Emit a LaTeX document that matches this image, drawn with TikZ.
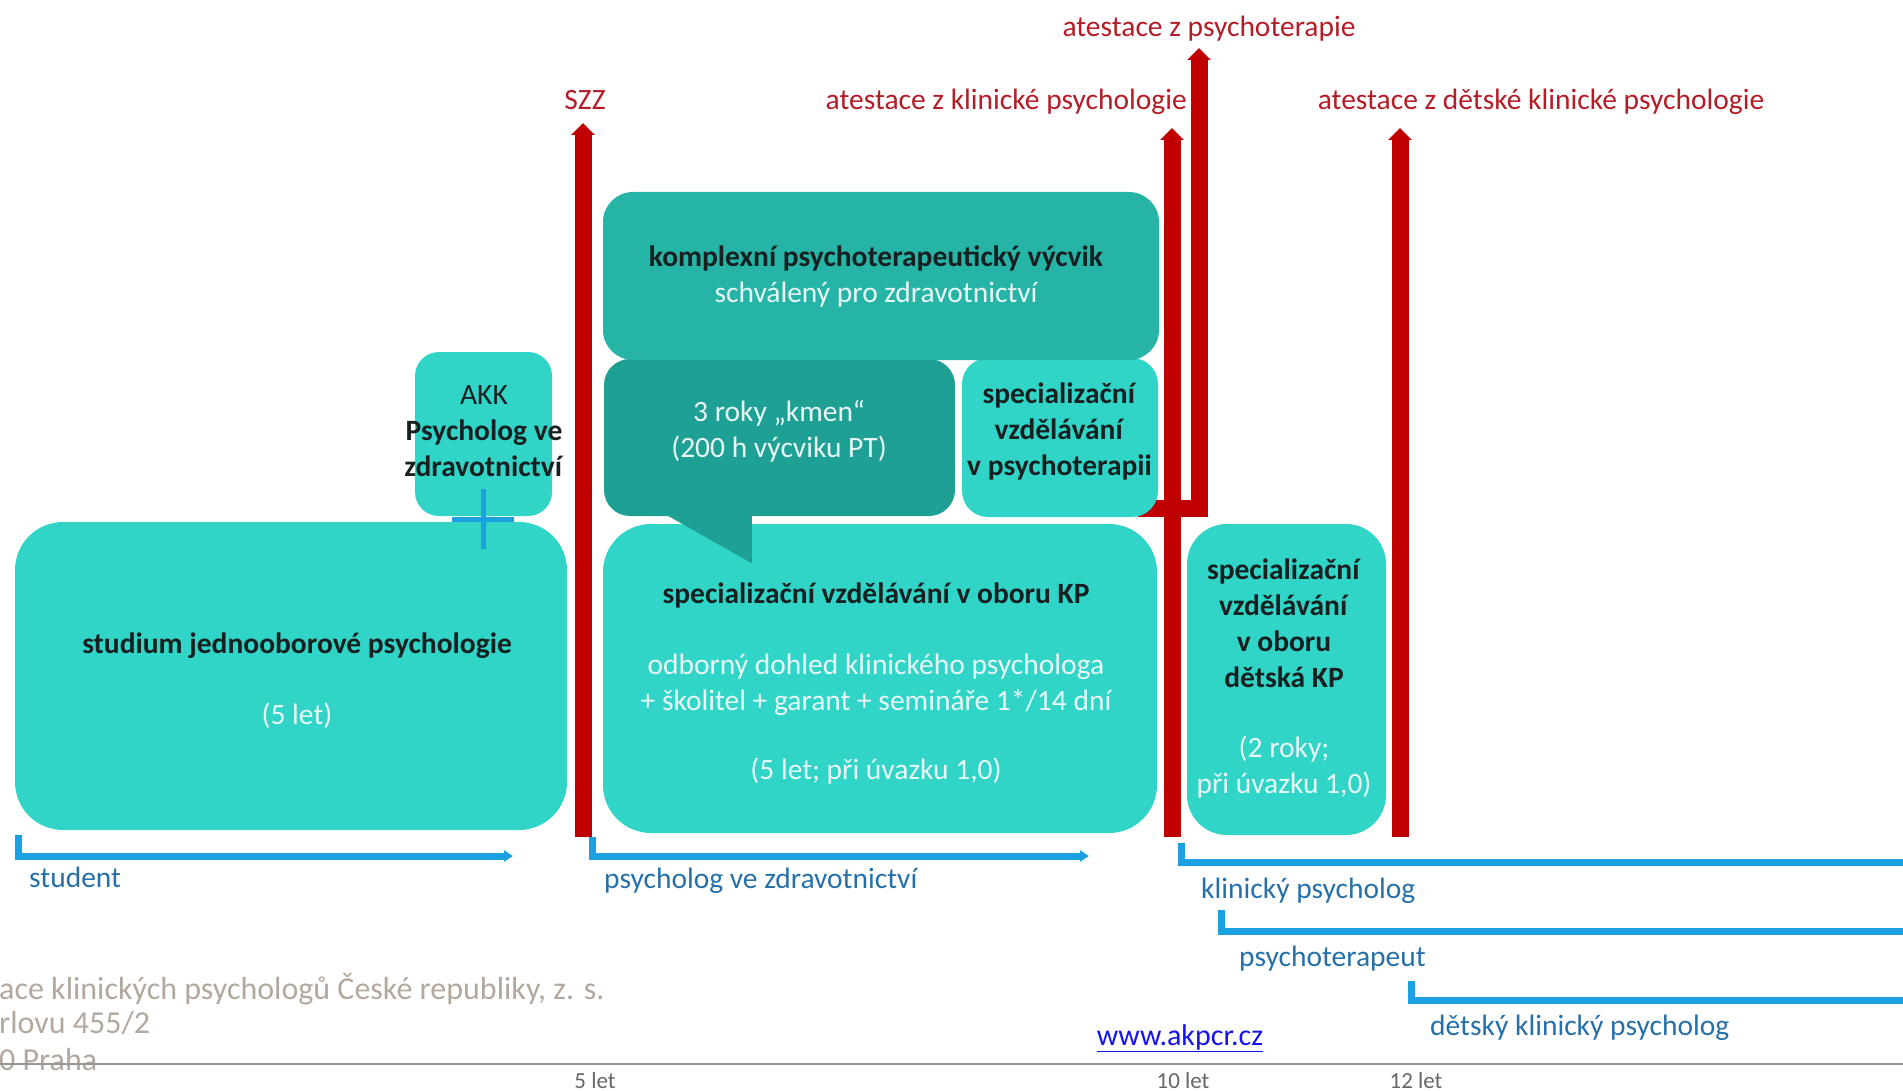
\documentclass[tikz,border=0pt]{standalone}
\usepackage{fontspec}
\setmainfont{Carlito}
\usepackage{tikz}
\usetikzlibrary{arrows.meta}
\usetikzlibrary{calc}
\usetikzlibrary{positioning}

\definecolor{tyrkys}{RGB}{49,213,200}
\definecolor{tyrkysB}{RGB}{38,180,167}
\definecolor{tyrkysC}{RGB}{31,160,148}
\definecolor{bordo}{RGB}{192,0,0}
\definecolor{bordoT}{RGB}{180,28,38}
\definecolor{modra}{RGB}{27,161,226}
\definecolor{modraT}{RGB}{38,112,170}
\definecolor{svetla}{RGB}{232,248,246}
\definecolor{tmava}{RGB}{22,32,32}
\definecolor{seda}{RGB}{178,168,158}
\definecolor{osa}{RGB}{150,150,150}
\definecolor{odkaz}{RGB}{20,20,235}

\begin{document}
\begin{tikzpicture}[x=1pt, y=-1pt,
  box/.style={fill=tyrkys, rounded corners=#1, inner sep=0pt},
  box/.default=48pt,
  txt/.style={align=center, inner sep=0pt, text=tmava, font=\fontsize{29.5}{36}\selectfont},
  bar/.style={bordo, line width=17pt, line join=miter, -{Triangle[length=0pt 0.7, width=0pt 1.35]}},
  atest/.style={inner sep=0pt, text=bordoT, font=\fontsize{29.5}{36}\selectfont},
  track/.style={modra, line width=7pt},
  role/.style={anchor=west, inner sep=0pt, text=modraT, font=\fontsize{29.5}{36}\selectfont},
  pata/.style={anchor=west, inner sep=0pt, text=seda, font=\fontsize{32}{36}\selectfont}]
\useasboundingbox (0,0) rectangle (1903,1091);
\foreach \nm/\x/\t in {szz/583/123, kp/1172/128, dkp/1400/128}{
\coordinate (\nm0) at (\x,837);
\coordinate (\nm1) at (\x,\t);
\draw[bar] (\nm0) -- (\nm1);}
\coordinate (ptbar0) at (1138,508);
\coordinate (ptbar1) at (1199,48);
\draw[bar] (ptbar0) -| (ptbar1);

\node[box, minimum width=552pt, minimum height=308pt] (studium) at (291,676) {};
\node[box=24pt, minimum width=137pt, minimum height=164pt] (akk) at (483.5,434) {};
\node[box=26pt, fill=tyrkysC, minimum width=351pt, minimum height=157pt] (kmen) at (779.5,437.5) {};
\node[box=26pt, minimum width=196pt, minimum height=159pt] (ptspec) at (1060,437.5) {};
\node[box=30pt, fill=tyrkysB, minimum width=556pt, minimum height=168pt] (komplex) at (881,276) {};
\node[box, minimum width=554pt, minimum height=309pt] (kpspec) at (880,678.5) {};
\node[box=40pt, minimum width=199pt, minimum height=311pt] (detska) at (1286.5,679.5) {};
\fill[tyrkysC] ($(kmen.south west)+(63,-1)$) -- ($(kmen.south west)+(148,47)$) -- ($(kmen.south west)+(148,-1)$) -- cycle;

\node[txt] (komplexT) at (876,277) {\textbf{komplexní psychoterapeutický výcvik}\\\textcolor{svetla}{schválený pro zdravotnictví}};
\node[txt, text=svetla] (kmenT) at (779,431) {3 roky „kmen“\\(200 h výcviku PT)};
\node[txt] (ptT) at (1059.5,431) {\textbf{specializační}\\\textbf{vzdělávání}\\\textbf{v psychoterapii}};
\node[txt] (akkT) at (484,431) {AKK\\\textbf{Psycholog ve}\\\textbf{zdravotnictví}};
\node[txt] (studiumT) at (297,681) {\textbf{studium jednooborové psychologie}\\[35pt]\textcolor{svetla}{(5 let)}};
\node[txt] (kpT) at (876,684) {\textbf{specializační vzdělávání v oboru KP}\\[35pt]\textcolor{svetla}{odborný dohled klinického psychologa}\\\textcolor{svetla}{+ školitel + garant + semináře 1*/14 dní}\\[33pt]\textcolor{svetla}{(5 let; při úvazku 1,0)}};
\node[txt] (detT) at (1284,679) {\textbf{specializační}\\\textbf{vzdělávání}\\\textbf{v oboru}\\\textbf{dětská KP}\\[34pt]\textcolor{svetla}{(2 roky;}\\\textcolor{svetla}{při úvazku 1,0)}};

\coordinate (plus) at (483,519);
\draw[modra, line width=5pt] ([xshift=-31pt]plus) -- ([xshift=31pt]plus) ([yshift=30pt]plus) -- ([yshift=-30pt]plus);

\node[atest] (szzL) at (585,100) {SZZ};
\node[atest, anchor=east] (kpL) at (1187,102) {atestace z klinické psychologie};
\node[atest] (ptL) at (1209,29) {atestace z psychoterapie};
\node[atest] (dkpL) at (1541,102) {atestace z dětské klinické psychologie};

\foreach \nm/\x/\ya/\yb/\xe in {trS/18/835/856/513, trP/592/837/856/1089}{
\coordinate (\nm0) at (\x,\ya);
\coordinate (\nm1) at (\xe,\yb);
\draw[track, -{Triangle[length=9pt, width=11pt]}] (\nm0) |- (\nm1);}
\foreach \nm/\x/\ya/\yb in {trK/1181/843/862, trT/1221/910/931, trD/1411/981/1000}{
\coordinate (\nm0) at (\x,\ya);
\coordinate (\nm1) at (1903,\yb);
\draw[track] (\nm0) |- (\nm1);}

\node[role] (student) at (29,877) {student};
\node[role] (psychZ) at (604,881) {psycholog ve zdravotnictví};
\node[role] (klinik) at (1201,891) {klinický psycholog};
\node[role] (terap) at (1239,959) {psychoterapeut};
\node[role] (detKlin) at (1430,1028) {dětský klinický psycholog};

\node[pata] (adr1) at (-1,989) {ace klinických psychologů České republiky, z. s.};
\node[pata] (adr2) at (-1,1023) {rlovu 455/2};
\node[pata] (adr3) at (-1,1059) {0 Praha};
\node[inner sep=0pt, text=odkaz, font=\fontsize{30}{36}\selectfont] (web) at (1180,1038) {\underline{www.akpcr.cz}};
\coordinate (osa0) at (0,1064);
\coordinate (osa1) at (1903,1064);
\draw[osa, line width=2pt] (osa0) -- (osa1);
\foreach \x/\t in {595/5 let, 1183/10 let, 1416/12 let}{
\node[inner sep=0pt, text=black!60, font=\fontsize{23}{28}\selectfont] (let\x) at (\x,1081) {\t};}
\end{tikzpicture}
\end{document}
